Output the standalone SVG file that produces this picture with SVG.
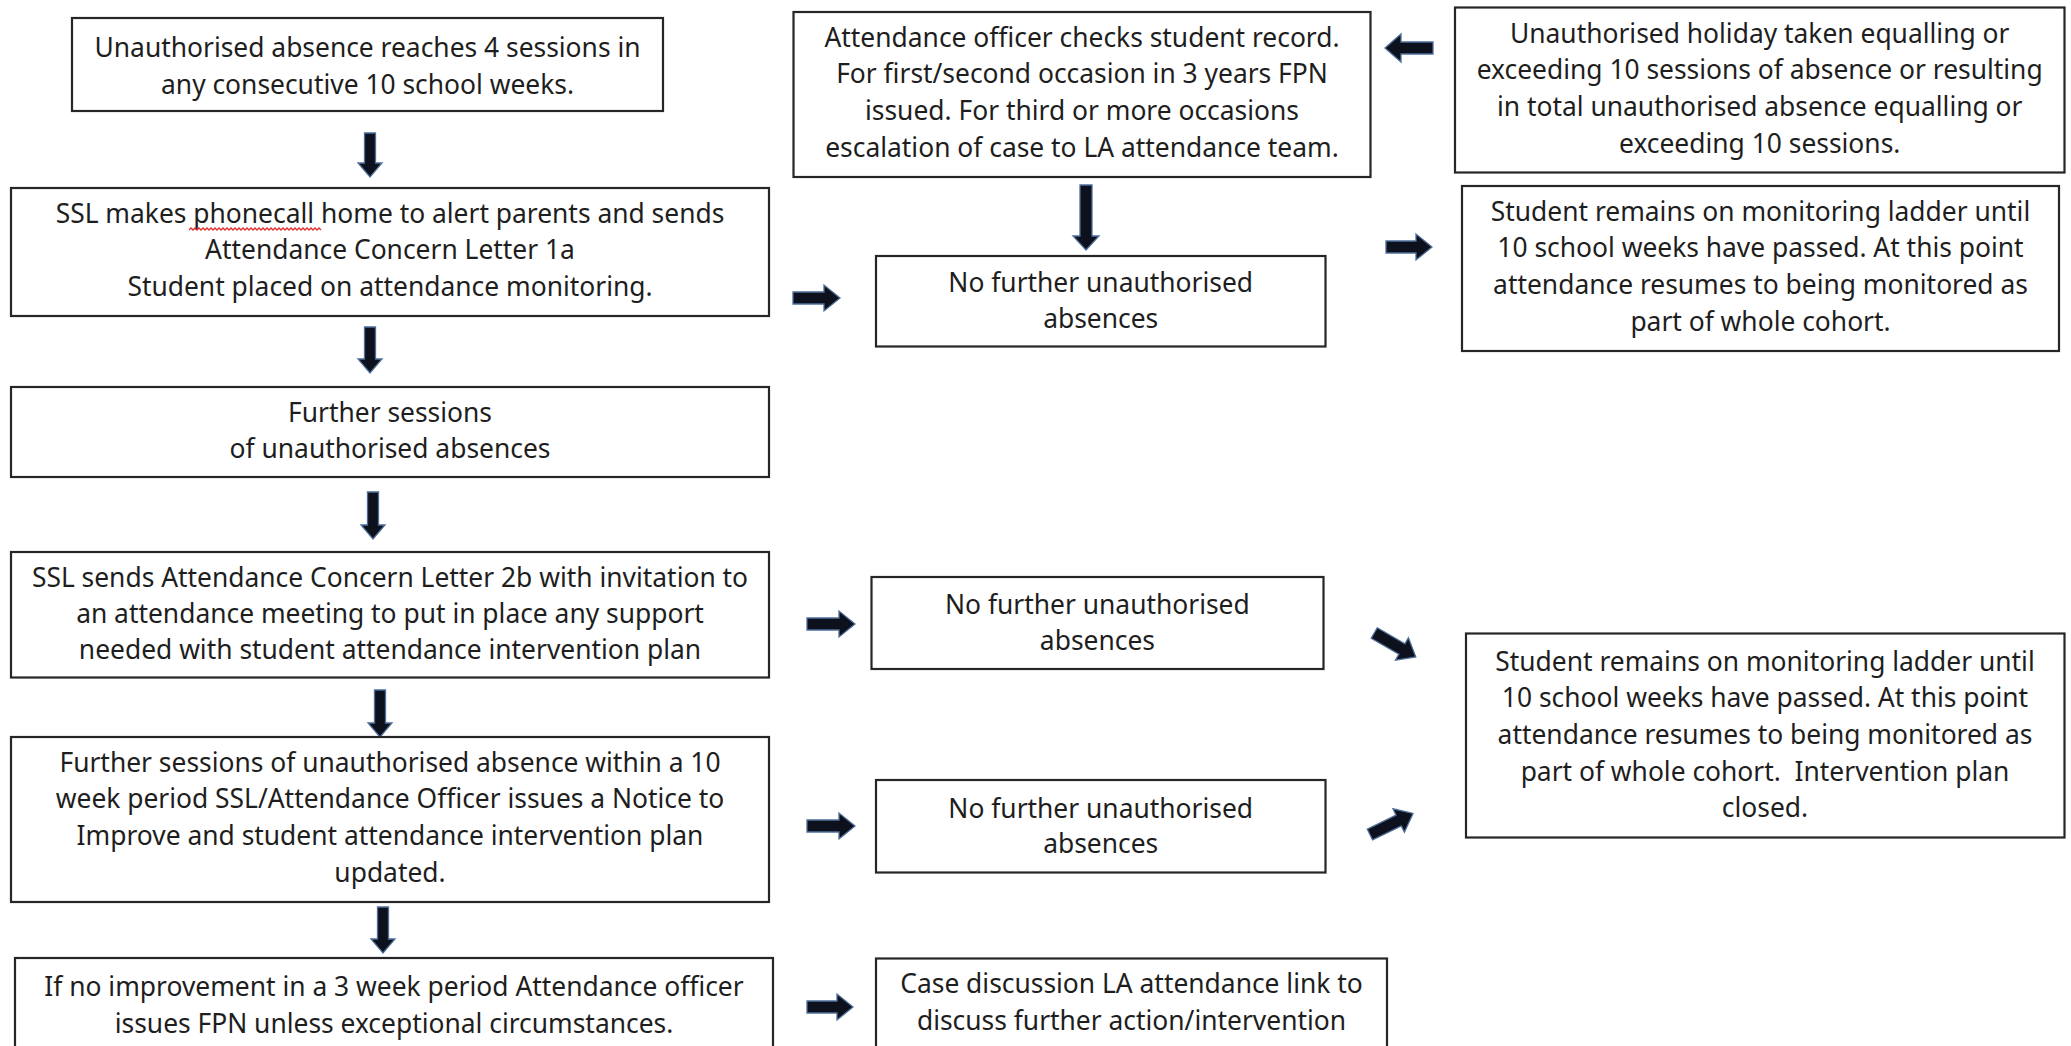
<svg xmlns="http://www.w3.org/2000/svg" width="2071" height="1046" viewBox="0 0 2071 1046">
<style>
.box{fill:#ffffff;stroke:#262626;stroke-width:2.2}
.t{font-family:"Noto Sans","Open Sans","Liberation Sans",sans-serif;font-size:26.4px;fill:#1e1e1e;text-anchor:middle}
.arr{fill:#0c111d;stroke:#4f6f9a;stroke-width:1.3;stroke-linejoin:miter}
.sq{fill:none;stroke:#e03030;stroke-width:1.3}
</style>
<rect x="0" y="0" width="2071" height="1046" fill="#ffffff"/>
<g id="connectors">
  <polygon class="arr" points="364.5,133 375.5,133 375.5,163 382,163 370,177 358,163 364.5,163"/>
  <polygon class="arr" points="364.5,327 375.5,327 375.5,359 382,359 370,373 358,359 364.5,359"/>
  <polygon class="arr" points="367.5,492 378.5,492 378.5,525 385,525 373,539 361,525 367.5,525"/>
  <polygon class="arr" points="374.5,690 385.5,690 385.5,723 392,723 380,737 368,723 374.5,723"/>
  <polygon class="arr" points="377.5,907 388.5,907 388.5,939 395,939 383,953 371,939 377.5,939"/>
  <polygon class="arr" points="1080,185 1092,185 1092,236 1099,236 1086,250 1073,236 1080,236"/>
  <polygon class="arr" points="793,292 824,292 824,285 840,298 824,311 824,304 793,304"/>
  <polygon class="arr" points="1386,241 1416,241 1416,234 1432,247 1416,260 1416,253 1386,253"/>
  <polygon class="arr" points="1433,42 1401,42 1401,34 1385,48 1401,62 1401,54 1433,54"/>
  <polygon class="arr" points="807,618 839,618 839,611 855,624 839,637 839,630 807,630"/>
  <polygon class="arr" points="807,820 839,820 839,813 855,826 839,839 839,832 807,832"/>
  <polygon class="arr" points="807,1001 837,1001 837,994 853,1007 837,1020 837,1013 807,1013"/>
  <polygon class="arr" transform="translate(1395,645) rotate(30)" points="-24,-6 8,-6 8,-13 24,0 8,13 8,6 -24,6"/>
  <polygon class="arr" transform="translate(1391.5,824) rotate(-26)" points="-24,-6 8,-6 8,-13 24,0 8,13 8,6 -24,6"/>
</g>
<g id="nodeA">
  <rect class="box" x="72" y="18" width="591" height="93"/>
  <text class="t" x="367.5" y="57">Unauthorised absence reaches 4 sessions in</text>
  <text class="t" x="367.5" y="93.5">any consecutive 10 school weeks.</text>
</g>
<g id="nodeB">
  <rect class="box" x="11" y="188" width="758" height="128"/>
  <text class="t" x="390" y="222.7">SSL makes phonecall home to alert parents and sends</text>
  <text class="t" x="390" y="259.3">Attendance Concern Letter 1a</text>
  <text class="t" x="390" y="296">Student placed on attendance monitoring.</text>
  <path class="sq" d="M189,230 l2,-2 l2,2 l2,-2 l2,2 l2,-2 l2,2 l2,-2 l2,2 l2,-2 l2,2 l2,-2 l2,2 l2,-2 l2,2 l2,-2 l2,2 l2,-2 l2,2 l2,-2 l2,2 l2,-2 l2,2 l2,-2 l2,2 l2,-2 l2,2 l2,-2 l2,2 l2,-2 l2,2 l2,-2 l2,2 l2,-2 l2,2 l2,-2 l2,2 l2,-2 l2,2 l2,-2 l2,2 l2,-2 l2,2 l2,-2 l2,2 l2,-2 l2,2 l2,-2 l2,2 l2,-2 l2,2 l2,-2 l2,2 l2,-2 l2,2 l2,-2 l2,2 l2,-2 l2,2 l2,-2 l2,2 l2,-2 l2,2 l2,-2 l2,2 l2,-2 l2,2"/>
</g>
<g id="nodeC">
  <rect class="box" x="11" y="387" width="758" height="90"/>
  <text class="t" x="390" y="421.7">Further sessions</text>
  <text class="t" x="390" y="458.3">of unauthorised absences</text>
</g>
<g id="nodeD">
  <rect class="box" x="11" y="552" width="758" height="125.5"/>
  <text class="t" x="390" y="586.7">SSL sends Attendance Concern Letter 2b with invitation to</text>
  <text class="t" x="390" y="622.7">an attendance meeting to put in place any support</text>
  <text class="t" x="390" y="659.3">needed with student attendance intervention plan</text>
</g>
<g id="nodeE">
  <rect class="box" x="11" y="737" width="758" height="165"/>
  <text class="t" x="390" y="771.7">Further sessions of unauthorised absence within a 10</text>
  <text class="t" x="390" y="808.3">week period SSL/Attendance Officer issues a Notice to</text>
  <text class="t" x="390" y="845">Improve and student attendance intervention plan</text>
  <text class="t" x="390" y="881.7">updated.</text>
</g>
<g id="nodeF">
  <rect class="box" x="15" y="958" width="758" height="100"/>
  <text class="t" x="394" y="996">If no improvement in a 3 week period Attendance officer</text>
  <text class="t" x="394" y="1032.7">issues FPN unless exceptional circumstances.</text>
</g>
<g id="nodeG">
  <rect class="box" x="793.5" y="12" width="577" height="165"/>
  <text class="t" x="1082" y="46.7">Attendance officer checks student record.</text>
  <text class="t" x="1082" y="83.3">For first/second occasion in 3 years FPN</text>
  <text class="t" x="1082" y="120">issued. For third or more occasions</text>
  <text class="t" x="1082" y="156.7">escalation of case to LA attendance team.</text>
</g>
<g id="nodeH">
  <rect class="box" x="876" y="256" width="449.5" height="90.5"/>
  <text class="t" x="1100.7" y="291.7">No further unauthorised</text>
  <text class="t" x="1100.7" y="328.3">absences</text>
</g>
<g id="nodeI">
  <rect class="box" x="1455" y="7.5" width="609.5" height="165"/>
  <text class="t" x="1759.7" y="42.7">Unauthorised holiday taken equalling or</text>
  <text class="t" x="1759.7" y="79.3">exceeding 10 sessions of absence or resulting</text>
  <text class="t" x="1759.7" y="116">in total unauthorised absence equalling or</text>
  <text class="t" x="1759.7" y="152.7">exceeding 10 sessions.</text>
</g>
<g id="nodeJ">
  <rect class="box" x="1462" y="186" width="597" height="165"/>
  <text class="t" x="1760.5" y="220.7">Student remains on monitoring ladder until</text>
  <text class="t" x="1760.5" y="257.3">10 school weeks have passed. At this point</text>
  <text class="t" x="1760.5" y="294">attendance resumes to being monitored as</text>
  <text class="t" x="1760.5" y="330.7">part of whole cohort.</text>
</g>
<g id="nodeK">
  <rect class="box" x="871.5" y="577" width="452" height="92"/>
  <text class="t" x="1097.4" y="614.3">No further unauthorised</text>
  <text class="t" x="1097.4" y="650">absences</text>
</g>
<g id="nodeL">
  <rect class="box" x="876" y="780" width="449.5" height="92.5"/>
  <text class="t" x="1100.7" y="817.7">No further unauthorised</text>
  <text class="t" x="1100.7" y="853.3">absences</text>
</g>
<g id="nodeM">
  <rect class="box" x="1466" y="633.5" width="598.5" height="204"/>
  <text class="t" x="1765" y="670.7">Student remains on monitoring ladder until</text>
  <text class="t" x="1765" y="707.3">10 school weeks have passed. At this point</text>
  <text class="t" x="1765" y="744">attendance resumes to being monitored as</text>
  <text class="t" x="1765" y="780.7" xml:space="preserve">part of whole cohort.  Intervention plan</text>
  <text class="t" x="1765" y="817.3">closed.</text>
</g>
<g id="nodeN">
  <rect class="box" x="876" y="958.5" width="511" height="100"/>
  <text class="t" x="1131.5" y="993.3">Case discussion LA attendance link to</text>
  <text class="t" x="1131.5" y="1030">discuss further action/intervention</text>
</g>
</svg>
